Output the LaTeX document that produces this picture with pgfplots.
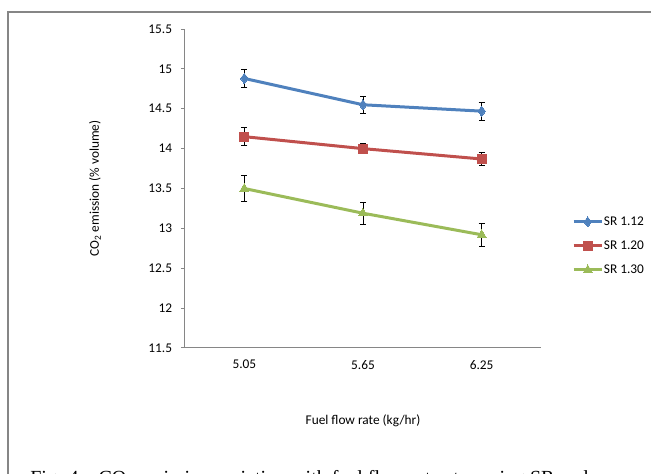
\documentclass[border=0pt]{standalone}
\usepackage{pgfplots}
\pgfplotsset{compat=1.18}
\usepackage{fontspec}
\setmainfont{Carlito}
\newfontfamily\capfont{Liberation Serif}
\definecolor{sblue}{HTML}{4F81BD}
\definecolor{sred}{HTML}{C0504D}
\definecolor{sgreen}{HTML}{9BBB59}
\definecolor{axgray}{HTML}{868686}
\begin{document}
\fontsize{10}{12}\selectfont
\begin{tikzpicture}
\path[use as bounding box] (0pt,0pt) rectangle (488.25pt,-355.5pt);
\draw[axgray, line width=0.9pt] (6pt,-355.5pt) -- (6pt,-9pt) -- (488.25pt,-9pt);
\begin{axis}[
  at={(138.75pt,-261pt)}, anchor=south west,
  scale only axis, width=267pt, height=239.25pt,
  xmin=-0.5, xmax=2.5, ymin=11.5, ymax=15.5,
  axis x line*=bottom, axis y line*=left,
  axis line style={axgray, line width=0.75pt},
  tick style={axgray, line width=0.75pt},
  tick align=outside,
  xtick={0,1,2}, xticklabels={5.05,5.65,6.25},
  x tick style={draw=none},
  extra x ticks={-0.5,0.5,1.5,2.5}, extra x tick labels={},
  extra x tick style={tick style={axgray, line width=0.75pt}, major tick length=3pt},
  ytick={11.5,12,...,15.5},
  yticklabels={11.5,12,12.5,13,13.5,14,14.5,15,15.5},
  major tick length=3pt,
  ticklabel style={font=\fontsize{10}{12}\selectfont, text=black},
  yticklabel style={inner sep=0pt, xshift=-6.5pt},
  xticklabel style={inner sep=0pt, yshift=-6pt},
  /pgf/number format/assume math mode=true,
  xlabel={Fuel flow rate (kg/hr)},
  ylabel={CO\textsubscript{2} emission (\% volume)},
  label style={font=\fontsize{10}{12}\selectfont},
  every axis x label/.style={at={(axis description cs:0.5,-0.229)}, anchor=center},
  every axis y label/.style={at={(axis description cs:-0.253,0.5)}, anchor=center, rotate=90},
  legend style={draw=none, fill=none, at={(axis description cs:1.087,0.320)}, anchor=west,
    inner sep=0pt, row sep=9pt, font=\fontsize{10}{12}\selectfont,
    nodes={inner xsep=0.5pt, inner ysep=0pt, text height=7pt, text depth=2pt}},
  legend cell align=left,
  legend image code/.code={\draw[mark repeat=2,mark phase=2,#1] plot coordinates {(0pt,0pt)(10.5pt,0pt)(21pt,0pt)};},
  every axis plot/.append style={line width=2.25pt},
  error bars/y dir=both, error bars/y explicit,
  error bars/error bar style={black, line width=0.6pt},
  error bars/error mark options={rotate=90, black, mark size=2.25pt, line width=0.6pt},
]
\addplot[sblue, mark=diamond*, mark size=3.8pt, mark options={solid, line width=0pt}]
  coordinates {(0,14.88) +- (0,0.11) (1,14.55) +- (0,0.11) (2,14.47) +- (0,0.11)};
\addlegendentry{SR 1.12}
\addplot[sred, mark=square*, mark size=3.4pt, mark options={solid, line width=0pt}]
  coordinates {(0,14.15) +- (0,0.11) (1,14.00) +- (0,0.065) (2,13.87) +- (0,0.08)};
\addlegendentry{SR 1.20}
\addplot[sgreen, mark=triangle*, mark size=3.8pt, mark options={solid, line width=0pt}]
  coordinates {(0,13.50) +- (0,0.16) (1,13.19) +- (0,0.14) (2,12.92) +- (0,0.145)};
\addlegendentry{SR 1.30}
\end{axis}
\node[anchor=base west, inner sep=0pt, font=\capfont\fontsize{15}{18}\selectfont] at (22.5pt,-363.5pt)
  {Fig. 4 – CO\textsubscript{2} emission variation with fuel flow rate at varying SR and};
\end{tikzpicture}
\end{document}
